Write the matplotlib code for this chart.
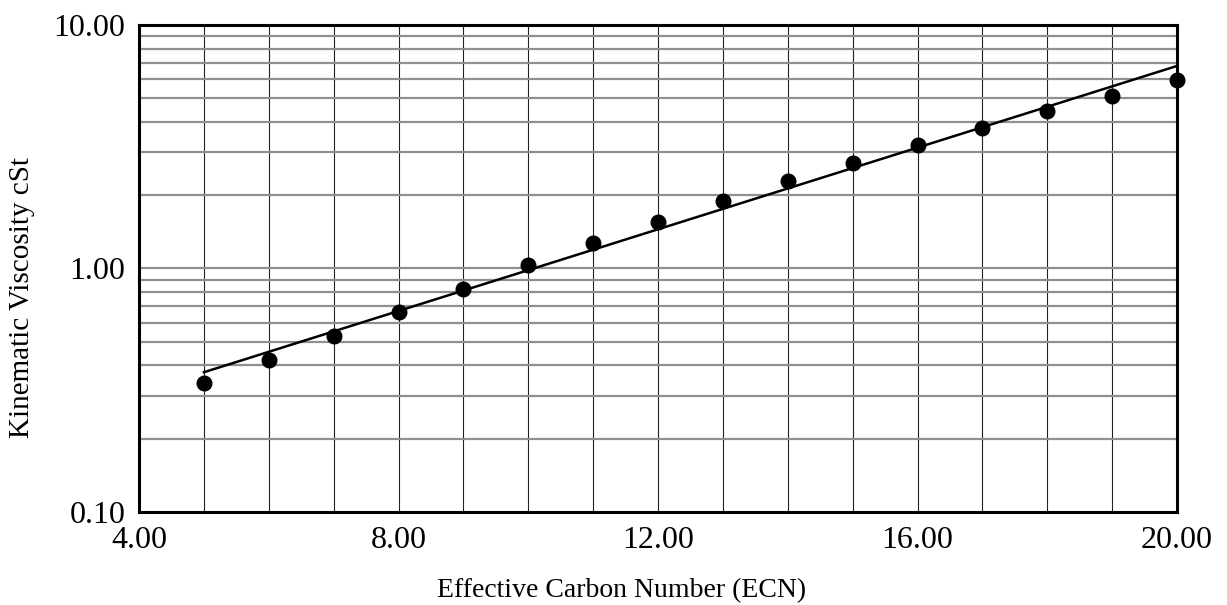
import matplotlib
matplotlib.use('Agg')
import matplotlib.pyplot as plt
from matplotlib.ticker import FixedLocator, NullFormatter, FixedFormatter
import numpy as np

# data
ecn = [5, 6, 7, 8, 9, 10, 11, 12, 13, 14, 15, 16, 17, 18, 19, 20]
visc = [0.338, 0.421, 0.530, 0.661, 0.824, 1.03, 1.269, 1.556, 1.888,
        2.28, 2.72, 3.21, 3.79, 4.42, 5.13, 5.94]
fit_x = [5, 20]
fit_y = [0.375, 6.79]

x_ticks = [4, 8, 12, 16, 20]
x_tick_labels = ['4.00', '8.00', '12.00', '16.00', '20.00']
y_ticks = [0.1, 1, 10]
y_tick_labels = ['0.10', '1.00', '10.00']

plt.rcParams['font.family'] = ['Liberation Serif', 'DejaVu Serif']

fig = plt.figure(figsize=(12.27, 6.05), dpi=100)
ax = fig.add_axes([0.1133, 0.1537, 0.8460, 0.8050])

ax.set_yscale('log')
ax.set_xlim(4, 20)
ax.set_ylim(0.1, 10)

# grid: vertical at every unit, horizontal at log minors
for xv in range(5, 20):
    ax.axvline(xv, color='#222222', lw=0.8, zorder=1)
minor_y = [m * 10.0 ** d for d in (-1, 0) for m in range(2, 10)] + [1.0]
for yv in minor_y:
    ax.axhline(yv, color='#909090', lw=1.6, zorder=1)

ax.plot(fit_x, fit_y, color='black', lw=1.8, zorder=3)
ax.plot(ecn, visc, 'o', color='black', markersize=10.5, zorder=4, clip_on=False)

ax.xaxis.set_major_locator(FixedLocator(x_ticks))
ax.xaxis.set_major_formatter(FixedFormatter(x_tick_labels))
ax.yaxis.set_major_locator(FixedLocator(y_ticks))
ax.yaxis.set_major_formatter(FixedFormatter(y_tick_labels))
ax.yaxis.set_minor_formatter(NullFormatter())
ax.tick_params(which='both', length=0)
ax.tick_params(axis='x', labelsize=23, pad=10)
ax.tick_params(axis='y', labelsize=23, pad=10)

for s in ax.spines.values():
    s.set_linewidth(2.2)
    s.set_zorder(5)

ax.set_xlabel('Effective Carbon Number (ECN)', fontsize=20)
ax.set_ylabel('Kinematic Viscosity cSt', fontsize=21)
ax.xaxis.set_label_coords(0.465, -0.135)
ax.yaxis.set_label_coords(-0.10, 0.44)

fig.savefig('out.png', dpi=100)
